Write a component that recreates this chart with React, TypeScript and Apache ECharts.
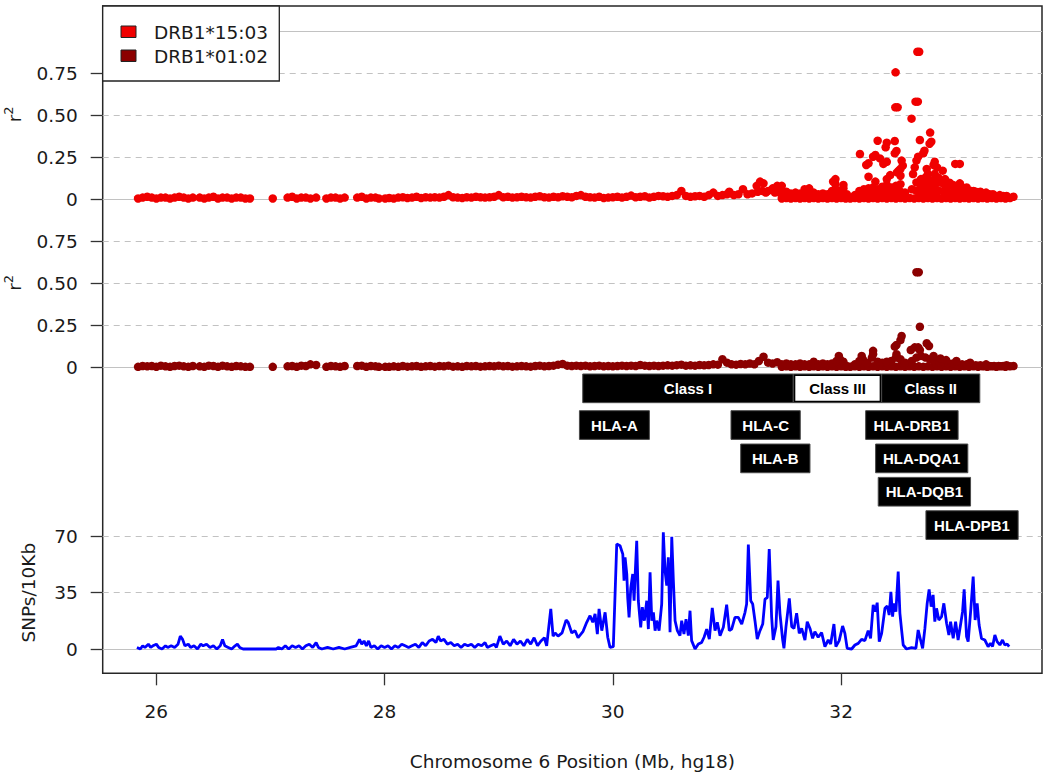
import React, { useEffect, useRef } from "react";
import * as echarts from "echarts";

// ---------- data ----------
const seriesNames = ["DRB1*15:03", "DRB1*01:02"];
const xTicks = [26, 28, 30, 32];
const r2Ticks = [0, 0.25, 0.5, 0.75];
const snpTicks = [0, 35, 70];

// r2 for DRB1*15:03 (position Mb, r2)
const r2Top: number[][] = [
  [25.84,0.005],[25.88,0.01],[25.92,0.015],[25.96,0.01],[26.0,0.005],[26.04,0.01],[26.08,0.01],[26.12,0.005],[26.16,0.01],[26.2,0.015],[26.24,0.01],[26.28,0.005],[26.32,0.01],
  [26.38,0.01],[26.42,0.005],[26.46,0.01],[26.5,0.015],[26.54,0.005],[26.58,0.01],[26.62,0.01],[26.66,0.005],[26.7,0.01],[26.74,0.01],[26.78,0.005],[26.82,0.005],
  [27.02,0.005],
  [27.15,0.01],[27.19,0.015],[27.23,0.005],[27.27,0.01],[27.31,0.01],[27.35,0.005],[27.4,0.01],
  [27.49,0.005],[27.53,0.01],[27.57,0.01],[27.61,0.005],[27.65,0.01],
  [27.76,0.01],[27.8,0.015],[27.84,0.005],[27.88,0.01],[27.92,0.01],[27.95,0.005],
  [28.005,0.005],
  [28.04,0.008],[28.08,0.005],[28.12,0.01],[28.16,0.012],[28.2,0.008],[28.24,0.01],[28.28,0.015],[28.32,0.008],[28.36,0.012],[28.4,0.01],[28.44,0.012],[28.48,0.01],[28.52,0.015],[28.56,0.025],[28.6,0.012],[28.64,0.01],[28.68,0.008],[28.72,0.012],[28.76,0.01],[28.8,0.015],[28.84,0.012],[28.88,0.01],[28.92,0.012],[28.96,0.015],
  [29.0,0.025],[29.04,0.012],[29.08,0.015],[29.12,0.01],[29.16,0.012],[29.2,0.015],[29.24,0.012],[29.28,0.01],[29.32,0.015],[29.36,0.018],[29.4,0.012],[29.44,0.01],[29.48,0.015],[29.52,0.012],[29.56,0.018],[29.6,0.015],[29.64,0.012],[29.68,0.02],[29.72,0.025],[29.76,0.015],[29.8,0.012],[29.84,0.01],[29.88,0.015],[29.92,0.008],[29.96,0.01],
  [30.0,0.012],[30.04,0.015],[30.08,0.01],[30.12,0.015],[30.16,0.022],[30.2,0.012],[30.24,0.015],[30.28,0.018],[30.32,0.01],[30.36,0.015],[30.4,0.02],[30.44,0.018],[30.48,0.015],[30.52,0.02],[30.56,0.025],[30.6,0.05],[30.64,0.02],[30.68,0.015],[30.72,0.018],[30.76,0.02],[30.8,0.015],[30.84,0.025],[30.88,0.04],[30.92,0.02],[30.96,0.025],
  [31.0,0.03],[31.02,0.045],[31.06,0.025],[31.1,0.03],[31.14,0.06],[31.18,0.03],[31.22,0.035],[31.26,0.08],[31.29,0.105],[31.32,0.095],[31.36,0.05],[31.4,0.065],[31.44,0.08],
  [31.27,0.045],[31.31,0.05],[31.34,0.04],[31.42,0.04],[31.46,0.04],
  [31.48,0.005],[31.52,0.008],[31.56,0.005],[31.6,0.008],[31.64,0.005],[31.68,0.008],[31.72,0.005],[31.76,0.008],[31.8,0.005],[31.84,0.008],[31.88,0.005],[31.92,0.008],[31.96,0.005],[32.0,0.008],[32.04,0.005],[32.08,0.005],[32.12,0.008],[32.16,0.005],[32.2,0.008],[32.24,0.005],[32.28,0.008],[32.32,0.005],[32.36,0.008],[32.4,0.005],[32.44,0.008],[32.48,0.005],[32.52,0.008],[32.56,0.005],[32.6,0.008],[32.64,0.005],[32.68,0.008],[32.72,0.005],[32.76,0.008],[32.8,0.005],[32.84,0.008],[32.88,0.005],[32.92,0.008],[32.96,0.005],[33.0,0.008],[33.04,0.005],[33.08,0.008],[33.12,0.005],[33.16,0.008],[33.2,0.005],[33.24,0.008],[33.28,0.005],[33.32,0.008],[33.36,0.005],[33.4,0.008],[33.44,0.005],[33.48,0.008],
  [31.48,0.08],[31.52,0.045],[31.56,0.035],[31.6,0.04],[31.64,0.035],[31.68,0.06],[31.72,0.065],[31.76,0.04],[31.8,0.03],[31.84,0.035],[31.88,0.03],[31.92,0.05],[31.95,0.09],[31.98,0.05],[32.02,0.065],[32.05,0.03],
  [32.12,0.025],[32.16,0.05],[32.2,0.06],[32.24,0.065],[32.28,0.07],[32.32,0.06],[32.36,0.075],[32.4,0.085],[32.44,0.07],[32.48,0.08],[32.52,0.09],[32.56,0.04],
  [32.62,0.06],[32.66,0.1],[32.7,0.12],[32.74,0.13],[32.78,0.11],[32.82,0.12],[32.86,0.1],[32.9,0.09],[32.94,0.08],[32.98,0.085],[33.02,0.075],[33.06,0.07],[33.1,0.06],[33.14,0.05],[33.18,0.045],[33.22,0.04],[33.26,0.035],[33.3,0.03],[33.34,0.025],[33.38,0.02],[33.42,0.02],
  [31.48,0.04],[31.7,0.03],[31.95,0.045],[32.02,0.03],[32.2,0.035],[32.24,0.035],[32.28,0.035],[32.32,0.035],[32.36,0.035],[32.4,0.04],[32.44,0.035],[32.48,0.04],[32.52,0.045],
  [32.66,0.05],[32.7,0.04],[32.7,0.08],[32.74,0.045],[32.74,0.09],[32.78,0.05],[32.78,0.075],[32.82,0.04],[32.82,0.08],[32.86,0.05],[32.9,0.045],[32.94,0.04],[32.98,0.04],[33.02,0.04],[33.06,0.035],[33.1,0.03],
  [31.93,0.105],[31.95,0.12],[32.02,0.085],
  [32.165,0.269],[32.22,0.204],[32.24,0.214],[32.24,0.134],[32.28,0.253],[32.3,0.263],[32.3,0.105],[32.32,0.348],[32.34,0.243],[32.37,0.21],[32.39,0.309],[32.4,0.336],[32.4,0.223],[32.4,0.12],[32.43,0.144],
  [32.475,0.546],[32.495,0.546],[32.47,0.346],[32.477,0.754],[32.47,0.273],[32.485,0.287],[32.49,0.16],[32.505,0.17],[32.52,0.18],[32.52,0.14],[32.53,0.23],[32.54,0.2],
  [32.617,0.479],[32.652,0.58],[32.672,0.58],[32.668,0.876],[32.684,0.876],[32.69,0.352],[32.675,0.253],[32.66,0.23],[32.645,0.19],[32.63,0.15],
  [32.72,0.273],[32.73,0.289],[32.78,0.396],[32.775,0.33],[32.79,0.342],[32.75,0.18],[32.76,0.15],[32.82,0.223],[32.81,0.204],[32.84,0.19],[32.82,0.15],[32.85,0.13],[32.89,0.17],[32.91,0.12],[32.95,0.099],
  [33.0,0.21],[33.04,0.21],[33.04,0.095],[33.1,0.07],[33.16,0.05],[33.22,0.045],[33.27,0.04],[33.33,0.03],[33.39,0.025],[33.45,0.02],[33.51,0.015],
];

// r2 for DRB1*01:02 (position Mb, r2)
const r2Mid: number[][] = [
  [25.84,0.005],[25.88,0.01],[25.92,0.008],[25.96,0.01],[26.0,0.005],[26.04,0.012],[26.08,0.008],[26.12,0.005],[26.16,0.01],[26.2,0.012],[26.24,0.008],[26.28,0.005],[26.32,0.01],
  [26.38,0.008],[26.42,0.005],[26.46,0.012],[26.5,0.01],[26.54,0.005],[26.58,0.012],[26.62,0.008],[26.66,0.005],[26.7,0.01],[26.74,0.008],[26.78,0.005],[26.82,0.005],
  [27.02,0.005],
  [27.15,0.008],[27.19,0.01],[27.23,0.005],[27.27,0.012],[27.31,0.01],[27.35,0.02],[27.4,0.016],
  [27.49,0.005],[27.53,0.01],[27.57,0.008],[27.61,0.005],[27.65,0.01],
  [27.76,0.01],[27.8,0.012],[27.84,0.005],[27.88,0.01],[27.92,0.008],[27.95,0.005],
  [28.005,0.005],
  [28.04,0.005],[28.08,0.008],[28.12,0.005],[28.16,0.01],[28.2,0.006],[28.24,0.008],[28.28,0.01],[28.32,0.005],[28.36,0.008],[28.4,0.01],[28.44,0.006],[28.48,0.01],[28.52,0.008],[28.56,0.012],[28.6,0.006],[28.64,0.008],[28.68,0.005],[28.72,0.01],[28.76,0.008],[28.8,0.01],[28.84,0.006],[28.88,0.008],[28.92,0.01],[28.96,0.008],
  [29.0,0.012],[29.04,0.008],[29.08,0.01],[29.12,0.006],[29.16,0.008],[29.2,0.01],[29.24,0.008],[29.28,0.006],[29.32,0.01],[29.36,0.012],[29.4,0.008],[29.44,0.01],[29.48,0.012],[29.52,0.018],[29.56,0.022],[29.6,0.012],[29.64,0.01],[29.68,0.012],[29.72,0.01],[29.76,0.012],[29.8,0.008],[29.84,0.01],[29.88,0.012],[29.92,0.008],[29.96,0.01],
  [30.0,0.008],[30.04,0.01],[30.08,0.012],[30.12,0.01],[30.16,0.012],[30.2,0.01],[30.24,0.016],[30.28,0.012],[30.32,0.01],[30.36,0.012],[30.4,0.01],[30.44,0.012],[30.48,0.014],[30.52,0.012],[30.56,0.015],[30.6,0.018],[30.64,0.012],[30.68,0.014],[30.72,0.012],[30.76,0.016],[30.8,0.014],[30.84,0.016],[30.88,0.02],[30.92,0.018],[30.96,0.05],
  [31.0,0.03],[31.04,0.02],[31.08,0.018],[31.12,0.022],[31.16,0.02],[31.2,0.025],[31.24,0.02],[31.28,0.04],[31.32,0.065],[31.36,0.03],[31.4,0.025],[31.44,0.032],
  [31.48,0.005],[31.52,0.008],[31.56,0.005],[31.6,0.008],[31.64,0.005],[31.68,0.008],[31.72,0.005],[31.76,0.008],[31.8,0.005],[31.84,0.008],[31.88,0.005],[31.92,0.008],[31.96,0.005],[32.0,0.008],[32.04,0.005],[32.08,0.005],[32.12,0.008],[32.16,0.005],[32.2,0.008],[32.24,0.005],[32.28,0.008],[32.32,0.005],[32.36,0.008],[32.4,0.005],[32.44,0.008],[32.48,0.005],[32.52,0.008],[32.56,0.005],[32.6,0.008],[32.64,0.005],[32.68,0.008],[32.72,0.005],[32.76,0.008],[32.8,0.005],[32.84,0.008],[32.88,0.005],[32.92,0.008],[32.96,0.005],[33.0,0.008],[33.04,0.005],[33.08,0.008],[33.12,0.005],[33.16,0.008],[33.2,0.005],[33.24,0.008],[33.28,0.005],[33.32,0.008],[33.36,0.005],[33.4,0.008],[33.44,0.005],[33.48,0.008],
  [31.48,0.02],[31.52,0.025],[31.56,0.02],[31.6,0.02],[31.64,0.025],[31.68,0.02],[31.72,0.02],[31.76,0.035],[31.8,0.02],[31.84,0.025],[31.88,0.02],[31.92,0.025],[31.96,0.04],[31.99,0.05],[32.02,0.035],[32.05,0.01],
  [32.12,0.02],[32.16,0.04],[32.19,0.05],[32.23,0.03],[32.27,0.06],[32.28,0.08],[32.32,0.035],[32.36,0.03],[32.4,0.035],[32.44,0.04],[32.48,0.06],[32.52,0.05],[32.56,0.03],
  [32.62,0.04],[32.66,0.06],[32.7,0.07],[32.74,0.06],[32.78,0.05],[32.82,0.04],[32.86,0.035],[32.9,0.03],[32.94,0.025],[32.98,0.025],[33.02,0.02],[33.06,0.02],[33.1,0.02],[33.14,0.015],[33.18,0.015],[33.22,0.015],[33.26,0.01],[33.3,0.01],[33.34,0.01],[33.38,0.01],[33.42,0.01],
  [32.28,0.1],[32.18,0.07],[31.98,0.07],[32.81,0.07],[32.47,0.125],[32.485,0.135],[32.485,0.08],[32.52,0.164],[32.53,0.188],[32.61,0.105],[32.645,0.121],[32.675,0.121],[32.69,0.105],
  [32.66,0.567],[32.68,0.567],[32.69,0.243],[32.75,0.145],[32.77,0.129],[32.87,0.055],[32.92,0.045],[33.01,0.04],[33.13,0.03],[33.27,0.02],[33.45,0.015],[33.51,0.01],
];

// SNP density (position Mb, SNPs per 10 kb)
const snpPos = [
  25.83,25.86,25.88,25.9,25.93,25.95,25.97,26.0,26.02,26.05,26.08,26.1,26.13,26.16,26.19,26.21,26.23,26.25,26.28,26.3,26.33,26.36,26.39,26.41,26.44,26.47,26.5,26.53,26.56,26.58,26.6,26.63,26.66,26.69,26.71,26.73,26.76,26.85,26.95,27.05,27.07,27.1,27.13,27.16,27.19,27.22,27.25,27.28,27.31,27.34,27.37,27.4,27.42,27.45,27.5,27.55,27.6,27.65,27.7,27.75,27.78,27.8,27.82,27.84,27.86,27.88,27.91,27.94,27.97,28.0,28.03,28.06,28.09,28.12,28.15,28.18,28.21,28.24,28.27,28.3,28.33,28.36,28.39,28.42,28.45,28.47,28.49,28.52,28.55,28.58,28.61,28.64,28.67,28.7,28.73,28.76,28.79,28.82,28.85,28.88,28.9,28.93,28.96,28.98,
  29.01,29.04,29.07,29.1,29.13,29.16,29.19,29.22,29.25,29.28,29.31,29.34,29.37,29.4,29.42,
  29.456,29.476,29.494,29.52,29.555,29.59,29.608,29.64,29.669,29.695,29.739,29.771,29.8,29.824,29.844,29.864,29.879,29.903,29.932,29.955,29.975,30.004,30.034,30.063,30.087,30.098,30.107,30.122,30.13,30.142,30.157,30.174,30.186,30.195,30.209,30.223,30.244,30.258,30.276,30.297,30.311,30.326,30.341,30.355,30.37,30.384,30.405,30.428,30.442,30.457,30.472,30.486,30.501,30.516,30.53,30.545,30.565,30.588,30.603,30.623,30.641,30.661,30.676,30.69,30.72,30.749,30.778,30.799,30.822,30.845,30.871,30.895,30.915,30.939,30.968,30.997,31.02,31.041,31.07,31.099,31.129,31.158,31.172,31.187,31.208,31.225,31.245,31.265,31.289,31.313,31.333,31.353,31.37,31.391,31.405,31.429,31.447,31.464,31.488,31.499,31.517,31.546,31.567,31.587,31.61,31.633,31.654,31.683,31.703,31.727,31.75,31.77,31.799,31.829,31.858,31.887,31.908,31.937,31.954,31.983,32.013,32.033,32.053,32.092,32.121,32.15,32.179,32.208,32.237,32.258,32.281,32.299,32.316,32.334,32.355,32.384,32.404,32.421,32.436,32.451,32.462,32.48,32.5,32.515,32.53,32.544,32.573,32.617,32.655,32.675,32.696,32.714,32.734,32.754,32.771,32.789,32.806,32.821,32.836,32.856,32.88,32.9,32.924,32.944,32.959,32.982,33.003,33.025,33.046,33.064,33.078,33.099,33.113,33.137,33.157,33.174,33.192,33.209,33.23,33.259,33.288,33.309,33.327,33.347,33.367,33.391,33.414,33.434,33.455,33.472,
];
const snpVal = [
  1,0,2,1,3,1,2,3,1,0,2,1,2,1,3,8,6,2,3,1,2,0,3,2,3,1,2,0,2,6,2,1,0,2,3,1,0,0,0,0,1,0,2,0,2,1,2,0,2,3,1,4,1,0,1,0,1,0,1,2,6,3,5,2,5,1,2,0,2,1,2,0,2,1,3,2,1,2,3,1,4,2,5,6,4,8,5,6,3,4,2,3,1,3,2,3,1,3,2,4,1,2,3,1,
  8,3,5,2,6,3,5,2,6,3,7,2,5,7,2,
  25,8,10,8,10,18,16.6,10,11.4,7,11,16.6,20.7,16.6,21.8,9.3,24.9,11.4,22.8,7.3,1,1.5,65.3,64.2,59,42.5,57,46.6,32,19.7,38,46.6,30,45.6,67.3,30,13.5,26,17.6,30,12.4,47.7,17.6,22.8,11.4,17.6,11.4,28,72.5,48.7,39.4,57,10.4,69.8,42.5,17.6,11.4,8.3,17.6,9.3,18.6,8.3,23.8,5.2,0,3.1,4.1,7.3,12.4,6.2,25.5,11.4,16.6,8.3,13.5,27.6,11.4,12.4,19.7,19.7,15.5,22.8,28,64.9,30,28,17.6,6.2,11.4,15.5,31,32,62.2,20,5.6,13.9,42.5,22,5.6,0.4,13.9,31.5,13.9,12.8,22.2,9.7,12.8,5.6,17,12.8,6.6,10.8,7.3,10.2,1.5,5.6,3.1,15.5,1.5,5.2,14.3,9.7,0.4,0,2.5,3.5,6,5.2,11.4,6.6,27.4,23.2,28.8,4.6,9.7,25.3,26.7,21.1,35.6,20.1,28.4,23.2,48.1,22.2,11.8,2.5,0,0.8,0.4,11.8,5.6,0.4,12.8,28.4,37.1,26.3,33.6,17,25.3,18,20.1,28.4,16,8.7,17,6.6,17,5.6,14.9,23.2,37.1,7.7,4.6,25.3,45,18,28.4,14.9,6.6,5.6,1.5,3.5,1.5,8.7,4.6,2.5,5.6,2.5,3.1,1.5,
];

// MHC class regions and HLA genes (Mb)
const classNames = ["Class I", "Class III", "Class II"];
const classStart = [29.736, 31.581, 32.355];
const classEnd = [31.581, 32.355, 33.215];
const geneNames = ["HLA-A", "HLA-C", "HLA-B", "HLA-DRB1", "HLA-DQA1", "HLA-DQB1", "HLA-DPB1"];
const geneStart = [29.707, 31.035, 31.12, 32.215, 32.302, 32.325, 32.743];
const geneEnd = [30.32, 31.642, 31.727, 33.025, 33.11, 33.134, 33.551];
const geneRow = [1, 1, 2, 1, 2, 3, 4];

// ---------- styles ----------
const FONT = '"DejaVu Sans", sans-serif';
const BOX_FONT = '"Liberation Sans", Arial, sans-serif';
const TEXT = "#1a1a1a";
const RED = "#f00000";
const DARKRED = "#8b0000";
const BLUE = "#0000ff";
const GRIDC = "#c2c2c2";

export default function App() {
  const ref = useRef<HTMLDivElement>(null);

  useEffect(() => {
    if (!ref.current) return;
    const chart = echarts.init(ref.current, undefined, { renderer: "svg" });

    const r2Global = [...r2Ticks, ...r2Ticks.map((t) => t + 1)];
    const r2Lines = [...r2Global, 2].map((v) => ({
      yAxis: v,
      lineStyle: {
        type: Math.abs(v - Math.round(v)) < 1e-9 ? "solid" : [6, 5],
        color: GRIDC,
        width: 1.2,
      },
    }));
    const snpLines = snpTicks.map((v) => ({
      yAxis: v,
      lineStyle: { type: v === 0 ? "solid" : [6, 5], color: GRIDC, width: 1.2 },
    }));

    const fmtR2 = (v: number) => {
      const l = v >= 1 - 1e-9 ? v - 1 : v;
      return Math.abs(l) < 1e-9 ? "0" : l.toFixed(2);
    };

    const tickStyle = { color: "#333", width: 1.3 };
    const labelStyle = { fontSize: 18.5, fontFamily: FONT, color: TEXT };

    const boxRender = (names: string[], isClass: boolean) => (params: any, api: any) => {
      const s = api.coord([api.value(0), 0]);
      const e = api.coord([api.value(1), 0]);
      const row = api.value(2);
      const y0 = s[1] + (row === 0 ? 6.3 : 43 + (row - 1) * 33.35);
      const h = 28.7;
      const name = names[params.dataIndex];
      const white = isClass && name === "Class III";
      const children: any[] = [
        {
          type: "rect",
          shape: { x: s[0], y: y0, width: e[0] - s[0], height: h },
          style: { fill: "#000", stroke: "#4a4a4a", lineWidth: 1 },
        },
      ];
      if (white) {
        children.push({
          type: "rect",
          shape: { x: s[0] + 2, y: y0 + 2, width: e[0] - s[0] - 4, height: h - 4 },
          style: { fill: "#fff" },
        });
      }
      children.push({
        type: "text",
        x: (s[0] + e[0]) / 2,
        y: y0 + h / 2,
        style: {
          text: name,
          fill: white ? "#000" : "#fff",
          fontSize: 15,
          fontWeight: "bold",
          fontFamily: BOX_FONT,
          align: "center",
          verticalAlign: "middle",
        },
      });
      return { type: "group", children };
    };

    const option: any = {
      animation: false,
      backgroundColor: "#fff",
      grid: {
        left: 102.7,
        top: 6,
        right: 8,
        bottom: 103.7,
        show: true,
        borderColor: "#262626",
        borderWidth: 1.5,
        containLabel: false,
        outerBoundsMode: "none",
      },
      xAxis: {
        type: "value",
        min: 25.53,
        max: 33.76,
        axisLine: { show: false, onZero: false },
        axisTick: { show: true, length: 12, customValues: xTicks, lineStyle: tickStyle },
        axisLabel: { customValues: xTicks, margin: 29, ...labelStyle },
        splitLine: { show: false },
        name: "Chromosome 6 Position (Mb, hg18)",
        nameLocation: "middle",
        nameGap: 79,
        nameTextStyle: labelStyle,
      },
      yAxis: [
        {
          type: "value",
          min: -1.815,
          max: 2.148,
          axisLine: { show: false, onZero: false },
          axisTick: { show: true, length: 12, customValues: r2Global, lineStyle: tickStyle },
          axisLabel: { customValues: r2Global, margin: 25, formatter: fmtR2, ...labelStyle },
          splitLine: { show: false },
        },
        {
          type: "value",
          min: -15.1,
          max: 399.7,
          position: "left",
          offset: 0,
          axisLine: { show: false, onZero: false },
          axisTick: { show: true, length: 12, customValues: snpTicks, lineStyle: tickStyle },
          axisLabel: { customValues: snpTicks, margin: 25, ...labelStyle },
          splitLine: { show: false },
        },
      ],
      series: [
        {
          name: seriesNames[0],
          type: "scatter",
          xAxisIndex: 0,
          yAxisIndex: 0,
          data: r2Top.map(([x, y]) => [x, y + 1]),
          symbol: "circle",
          symbolSize: 8.5,
          itemStyle: { color: RED, opacity: 1 },
          z: 3,
          clip: false,
          markLine: {
            silent: true,
            symbol: ["none", "none"],
            label: { show: false },
            z: 1,
            data: r2Lines,
          },
        },
        {
          name: seriesNames[1],
          type: "scatter",
          xAxisIndex: 0,
          yAxisIndex: 0,
          data: r2Mid,
          symbol: "circle",
          symbolSize: 8.5,
          itemStyle: { color: DARKRED, opacity: 1 },
          z: 3,
          clip: false,
        },
        {
          name: "SNPs/10Kb",
          type: "line",
          xAxisIndex: 0,
          yAxisIndex: 1,
          data: snpPos.map((x, i) => [x, snpVal[i]]),
          showSymbol: false,
          symbol: "none",
          lineStyle: { color: BLUE, width: 2.8 },
          z: 3,
          markLine: {
            silent: true,
            symbol: ["none", "none"],
            label: { show: false },
            z: 1,
            data: snpLines,
          },
        },
        {
          type: "custom",
          xAxisIndex: 0,
          yAxisIndex: 0,
          clip: false,
          z: 4,
          encode: { x: [0, 1], y: 2 },
          data: classStart.map((s, i) => [s, classEnd[i], 0]),
          renderItem: boxRender(classNames, true),
        },
        {
          type: "custom",
          xAxisIndex: 0,
          yAxisIndex: 0,
          clip: false,
          z: 4,
          encode: { x: [0, 1], y: 2 },
          data: geneStart.map((s, i) => [s, geneEnd[i], geneRow[i]]),
          renderItem: boxRender(geneNames, false),
        },
      ],
      graphic: [
        {
          type: "rect",
          z: 10,
          shape: { x: 102.7, y: 6, width: 176.6, height: 75 },
          style: { fill: "#fff", stroke: "#222", lineWidth: 1.3 },
        },
        {
          type: "rect",
          z: 11,
          shape: { x: 121, y: 26, width: 15, height: 11.5 },
          style: { fill: RED, stroke: "#222", lineWidth: 1 },
        },
        {
          type: "rect",
          z: 11,
          shape: { x: 121, y: 50, width: 15, height: 11.5 },
          style: { fill: DARKRED, stroke: "#222", lineWidth: 1 },
        },
        {
          type: "text",
          z: 11,
          x: 154,
          y: 32.5,
          style: { text: seriesNames[0], fontSize: 18.5, fontFamily: FONT, fill: TEXT, align: "left", verticalAlign: "middle" },
        },
        {
          type: "text",
          z: 11,
          x: 154,
          y: 56.5,
          style: { text: seriesNames[1], fontSize: 18.5, fontFamily: FONT, fill: TEXT, align: "left", verticalAlign: "middle" },
        },
        {
          type: "text",
          x: 14,
          y: 118.5,
          rotation: Math.PI / 2,
          style: { text: "r", fontSize: 18.5, fontFamily: FONT, fill: TEXT, align: "center", verticalAlign: "middle" },
        },
        {
          type: "text",
          x: 8.5,
          y: 110.5,
          rotation: Math.PI / 2,
          style: { text: "2", fontSize: 13, fontFamily: FONT, fill: TEXT, align: "center", verticalAlign: "middle" },
        },
        {
          type: "text",
          x: 14,
          y: 287,
          rotation: Math.PI / 2,
          style: { text: "r", fontSize: 18.5, fontFamily: FONT, fill: TEXT, align: "center", verticalAlign: "middle" },
        },
        {
          type: "text",
          x: 8.5,
          y: 279,
          rotation: Math.PI / 2,
          style: { text: "2", fontSize: 13, fontFamily: FONT, fill: TEXT, align: "center", verticalAlign: "middle" },
        },
        {
          type: "text",
          x: 28.5,
          y: 592.7,
          rotation: Math.PI / 2,
          style: { text: "SNPs/10Kb", fontSize: 18.5, fontFamily: FONT, fill: TEXT, align: "center", verticalAlign: "middle" },
        },
      ],
    };

    chart.setOption(option);
    return () => chart.dispose();
  }, []);

  return (
    <div
      ref={ref}
      style={{ position: "fixed", left: 0, top: 0, width: 1050, height: 777, background: "#fff" }}
    />
  );
}
